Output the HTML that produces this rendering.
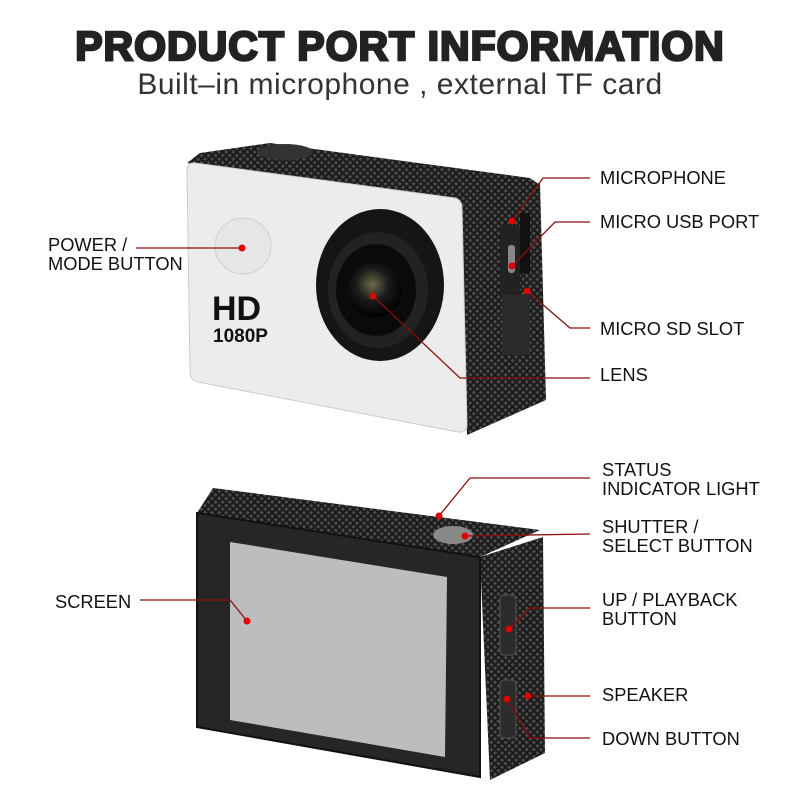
<!DOCTYPE html>
<html><head><meta charset="utf-8"><style>
html,body{margin:0;padding:0;background:#fff;}
svg{display:block;}
text{font-family:"Liberation Sans",Arial,sans-serif;}
.l{font-size:18.3px;fill:#111;}
</style></head><body>
<svg width="800" height="800" viewBox="0 0 800 800" xmlns="http://www.w3.org/2000/svg">
<defs>
<pattern id="knurl" width="5" height="5" patternUnits="userSpaceOnUse" patternTransform="rotate(45)">
<rect width="5" height="5" fill="#1a1a1a"/><rect x="1" y="1" width="3" height="3" fill="#4a4a4a"/>
</pattern>
<radialGradient id="lensg" cx="0.45" cy="0.4" r="0.6"><stop offset="0" stop-color="#6a6a48"/><stop offset="0.5" stop-color="#1b1b1b"/><stop offset="1" stop-color="#000"/></radialGradient>
</defs>
<text x="400" y="60" text-anchor="middle" font-size="41" font-weight="bold" fill="#222" stroke="#222" stroke-width="2.5" letter-spacing="1">PRODUCT PORT INFORMATION</text>
<text x="400" y="94" text-anchor="middle" font-size="30" fill="#333" letter-spacing="0.5">Built–in microphone , external TF card</text>

<!-- top camera -->
<polygon points="200,153 270,143 530,178 540,185 460,200 187,163" fill="url(#knurl)"/>
<polygon points="460,200 540,183 546,400 467,435" fill="url(#knurl)"/>
<path d="M195,163 L455,198 Q462,200 462,208 L467,425 Q467,433 458,432 L198,382 Q190,380 190,372 L187,172 Q187,162 195,163 Z" fill="#ececec" stroke="#ccc"/>
<ellipse cx="285" cy="152" rx="28" ry="8" fill="#333"/>
<circle cx="243" cy="246" r="28" fill="#e6e6e6" stroke="#d0d0d0"/>
<rect x="500" y="225" width="20" height="70" rx="3" fill="#222"/>
<rect x="508" y="245" width="7" height="28" rx="3" fill="#888"/>
<rect x="520" y="213" width="10" height="60" fill="#111"/>
<rect x="502" y="295" width="28" height="60" fill="#2a2a2a"/>
<ellipse cx="380" cy="285" rx="64" ry="76" fill="#151515"/>
<ellipse cx="378" cy="290" rx="50" ry="58" fill="#222"/>
<ellipse cx="376" cy="290" rx="40" ry="46" fill="#0a0a0a"/>
<circle cx="375" cy="290" r="27" fill="url(#lensg)"/>
<text x="212" y="320" font-size="34" font-weight="bold" fill="#111">HD</text>
<text x="213" y="342" font-size="19" font-weight="bold" fill="#111">1080P</text>

<!-- bottom camera -->
<polygon points="213,488 540,530 480,557 197,513" fill="url(#knurl)"/>
<polygon points="480,557 543,537 545,753 490,780" fill="url(#knurl)"/>
<polygon points="197,513 480,557 480,777 197,727" fill="#262626" stroke="#111" stroke-width="2"/>
<polygon points="230,542 447,577 445,757 230,720" fill="#bdbdbd"/>
<ellipse cx="453" cy="535" rx="20" ry="9" fill="#888"/>
<rect x="500" y="595" width="16" height="60" rx="4" fill="#2c2c2c" stroke="#555"/>
<rect x="500" y="680" width="16" height="58" rx="4" fill="#2c2c2c" stroke="#555"/>

<!-- connectors -->
<g stroke="#8b0d0d" stroke-width="1.3" fill="none">
<polyline points="136,248 242,248"/>
<polyline points="512,221 543,178 590,178"/>
<polyline points="512,266 555,222 590,222"/>
<polyline points="527,291 570,328 590,328"/>
<polyline points="373,296 460,378 590,378"/>
<polyline points="439,516 470,478 590,478"/>
<polyline points="465,536 590,534"/>
<polyline points="140,600 230,600 247,621"/>
<polyline points="509,629 530,608 590,608"/>
<polyline points="528,696 590,696"/>
<polyline points="507,699 530,738 590,738"/>
</g>
<g fill="#e00000">
<circle cx="242" cy="248" r="3.5"/><circle cx="512" cy="221" r="3.5"/><circle cx="512" cy="266" r="3.5"/>
<circle cx="527" cy="291" r="3.5"/><circle cx="373" cy="296" r="3.5"/><circle cx="439" cy="516" r="3.5"/>
<circle cx="465" cy="536" r="3.5"/><circle cx="247" cy="621" r="3.5"/><circle cx="509" cy="629" r="3.5"/>
<circle cx="528" cy="696" r="3.5"/><circle cx="507" cy="699" r="3.5"/>
</g>

<text class="l" x="48" y="251">POWER /</text>
<text class="l" x="48" y="270">MODE BUTTON</text>
<text class="l" x="55" y="608">SCREEN</text>
<text class="l" x="600" y="184">MICROPHONE</text>
<text class="l" x="600" y="228">MICRO USB PORT</text>
<text class="l" x="600" y="335">MICRO SD SLOT</text>
<text class="l" x="600" y="381">LENS</text>
<text class="l" x="602" y="476">STATUS</text>
<text class="l" x="602" y="495">INDICATOR LIGHT</text>
<text class="l" x="602" y="533">SHUTTER /</text>
<text class="l" x="602" y="552">SELECT BUTTON</text>
<text class="l" x="602" y="606">UP / PLAYBACK</text>
<text class="l" x="602" y="625">BUTTON</text>
<text class="l" x="602" y="701">SPEAKER</text>
<text class="l" x="602" y="745">DOWN BUTTON</text>
</svg>
</body></html>
